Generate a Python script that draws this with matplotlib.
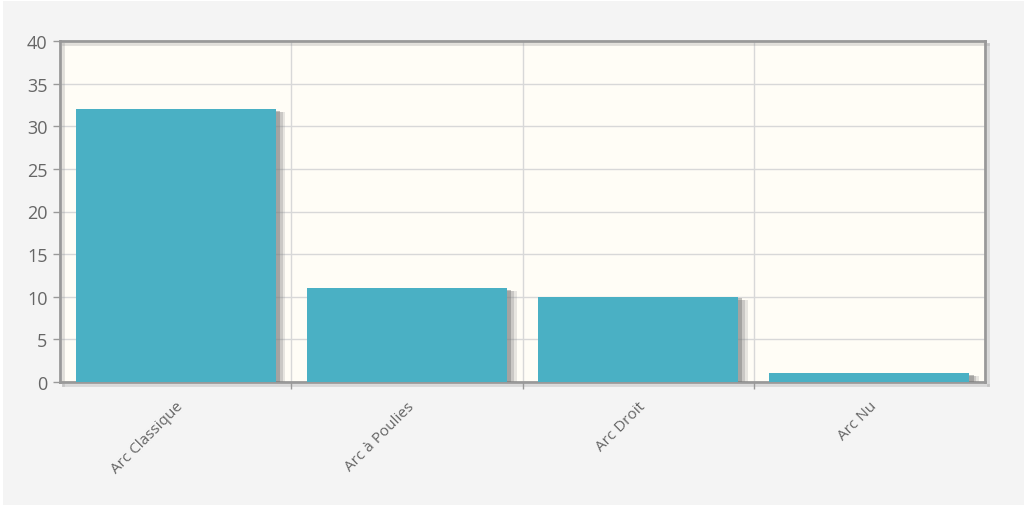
import matplotlib.pyplot as plt
import matplotlib.patheffects as pe
from matplotlib.patches import Rectangle

categories = ["Arc Classique", "Arc à Poulies", "Arc Droit", "Arc Nu"]
counts = [32, 11, 10, 1]
y_ticks = [0, 5, 10, 15, 20, 25, 30, 35, 40]

plt.rcParams['font.family'] = ['Open Sans', 'DejaVu Sans']

fig = plt.figure(figsize=(10.24, 5.06), dpi=100, facecolor='white')
fig.patches.append(Rectangle((3 / 1024, 0), 1, 1 - 2 / 506, transform=fig.transFigure,
                             facecolor='#f4f4f4', edgecolor='none', zorder=-10))

ax = fig.add_axes([60 / 1024, 1 - 383 / 506, 925 / 1024, 341 / 506])
ax.set_facecolor('#fffdf6')

x = range(len(categories))
shadow = [pe.SimplePatchShadow(offset=(7, -2), shadow_rgbFace='#888888', alpha=0.2),
          pe.SimplePatchShadow(offset=(5, -2), shadow_rgbFace='#888888', alpha=0.3),
          pe.SimplePatchShadow(offset=(3, -1), shadow_rgbFace='#777777', alpha=0.45),
          pe.Normal()]
ax.bar(x, counts, width=0.865, color='#4ab0c4', zorder=3, path_effects=shadow)

ax.set_xlim(-0.5, len(categories) - 0.5)
ax.set_ylim(0, 40)
ax.set_yticks(y_ticks)
ax.set_yticklabels([str(v) for v in y_ticks], fontsize=13, color='#666666')

# category labels at centres, grid lines/ticks at boundaries
ax.set_xticks(list(x))
ax.set_xticklabels(categories, rotation=45, ha='right', va='top', rotation_mode='anchor',
                   fontsize=11, color='#666666')
ax.tick_params(axis='x', length=0, pad=12)
ax.set_xticks([i + 0.5 for i in range(len(categories) - 1)], minor=True)
ax.tick_params(axis='x', which='minor', length=5, color='#999999', width=1)
ax.tick_params(axis='y', length=5, color='#999999', width=1, pad=4)

ax.grid(axis='y', which='major', color='#d8d8d8', linewidth=1, zorder=0)
ax.grid(axis='x', which='minor', color='#d8d8d8', linewidth=1, zorder=0)
ax.set_axisbelow(True)

for side in ['left', 'bottom', 'top', 'right']:
    ax.spines[side].set_color('#999999')
    ax.spines[side].set_linewidth(2)
    ax.spines[side].set_path_effects([pe.SimpleLineShadow(offset=(2, -2), shadow_color='#999999', alpha=0.3),
                                      pe.Normal()])

fig.savefig("out.png", dpi=100, facecolor=fig.get_facecolor())
